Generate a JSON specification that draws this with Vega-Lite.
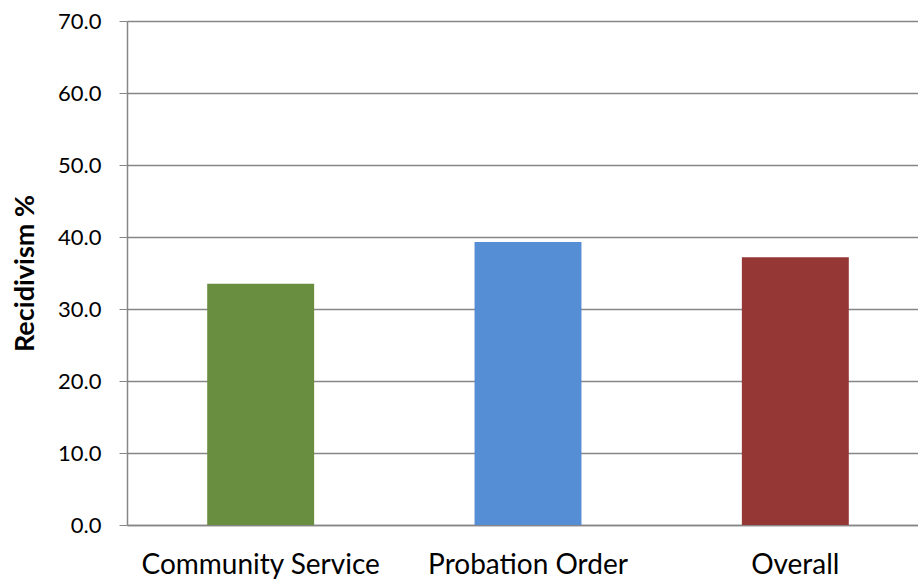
{
  "$schema": "https://vega.github.io/schema/vega-lite/v6.json",
  "width": 802,
  "height": 504,
  "autosize": {"type": "none"},
  "padding": {"left": 127, "top": 21, "right": 0, "bottom": 56},
  "background": "white",
  "config": {"view": {"stroke": null}, "font": "Lato"},
  "data": {"values": [
    {"category": "Community Service", "recidivism": 33.5},
    {"category": "Probation Order", "recidivism": 39.3},
    {"category": "Overall", "recidivism": 37.2}
  ]},
  "mark": {"type": "bar"},
  "encoding": {
    "x": {
      "field": "category", "type": "nominal", "sort": null,
      "scale": {"paddingInner": 0.6, "paddingOuter": 0.3},
      "axis": {"title": null, "labelAngle": 0, "labelFontSize": 28, "labelColor": "#000000", "labelFont": "Lato", "labelLimit": 0,
               "labelBaseline": "alphabetic", "ticks": false, "domainColor": "#868686", "domainWidth": 1.5, "labelPadding": 48}
    },
    "y": {
      "field": "recidivism", "type": "quantitative",
      "scale": {"domain": [0, 70]},
      "axis": {"title": "Recidivism %", "titleFontSize": 27, "titleFontWeight": "bold", "titleColor": "#000000", "titleFont": "Lato",
               "titlePadding": 18,
               "values": [0, 10, 20, 30, 40, 50, 60, 70], "format": ".1f",
               "labelFontSize": 22, "labelColor": "#000000", "labelPadding": 18, "labelFont": "Lato",
               "tickSize": 8, "tickColor": "#868686", "domainColor": "#868686", "domainWidth": 1.5,
               "gridColor": "#868686", "gridWidth": 1.5}
    },
    "color": {
      "field": "category", "type": "nominal", "legend": null,
      "scale": {"domain": ["Community Service", "Probation Order", "Overall"], "range": ["#698E3F", "#558ED5", "#953735"]}
    }
  }
}
